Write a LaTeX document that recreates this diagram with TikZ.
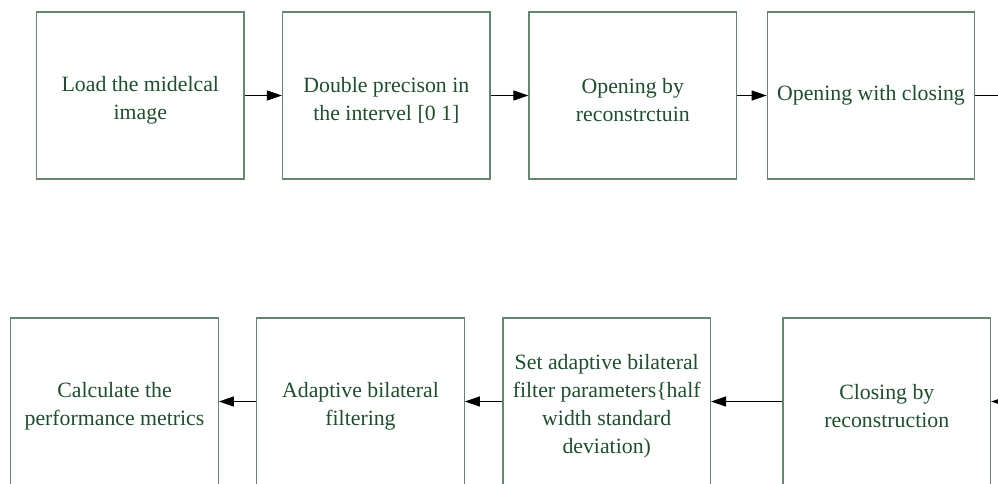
\documentclass[tikz,border=0pt]{standalone}
\usepackage{fontspec}
\setmainfont{Liberation Serif}
\usetikzlibrary{arrows.meta}
\definecolor{boxColor}{RGB}{100,135,112}
\definecolor{textColor}{RGB}{30,78,46}
\tikzstyle{flowchart} = [x = 1pt, y = -1pt]
\tikzstyle{stepBox} = [draw=boxColor, line width=1.2pt, minimum width=207.5pt, minimum height=167pt, inner sep=0pt, align=center, text=textColor, font=\fontsize{21.8}{28}\selectfont]
\tikzstyle{flowArrow} = [-{Triangle[length=15pt,width=10pt]}, line width=1pt]
\tikzstyle{flowLine} = [line width=1pt]
\newcommand{\topRow}{95.5}
\newcommand{\bottomRow}{401.5}
\newcommand{\firstLine}{\rule{0pt}{25pt}}

\begin{document}
\begin{tikzpicture}[flowchart]
          \useasboundingbox (0,0) rectangle (998,483);
          \clip (0,0) rectangle (998,483);
          % first row
          \node [stepBox] (loadImage) at (140.3,\topRow) {\firstLine Load the midelcal\\image};
          \node [stepBox] (doublePrecision) at (386.3,\topRow) {\firstLine Double precison in\\the intervel [0 1]};
          \node [stepBox] (openingRecon) at (632.8,\topRow) {\firstLine Opening by\\reconstrctuin};
          \node [stepBox] (openingClosing) at (871,\topRow) {Opening with closing};
          \coordinate (topExit) at (1010,\topRow);
          % second row
          \node [stepBox] (performanceMetrics) at (114.5,\bottomRow) {\firstLine Calculate the\\performance metrics};
          \node [stepBox] (bilateralFilter) at (360.5,\bottomRow) {\firstLine Adaptive bilateral\\filtering};
          \node [stepBox] (setParameters) at (606.7,\bottomRow) {\firstLine Set adaptive bilateral\\filter parameters\{half\\width standard\\deviation)};
          \node [stepBox] (closingRecon) at (886.8,\bottomRow) {\firstLine Closing by\\reconstruction};
          \coordinate (bottomEntry) at (1010,\bottomRow);

          \draw [flowArrow] (loadImage) -- (doublePrecision);
          \draw [flowArrow] (doublePrecision) -- (openingRecon);
          \draw [flowArrow] (openingRecon) -- (openingClosing);
          \draw [flowLine] (openingClosing) -- (topExit);
          \draw [flowArrow] (bottomEntry) -- (closingRecon);
          \draw [flowArrow] (closingRecon) -- (setParameters);
          \draw [flowArrow] (setParameters) -- (bilateralFilter);
          \draw [flowArrow] (bilateralFilter) -- (performanceMetrics);
        \end{tikzpicture}
\end{document}
